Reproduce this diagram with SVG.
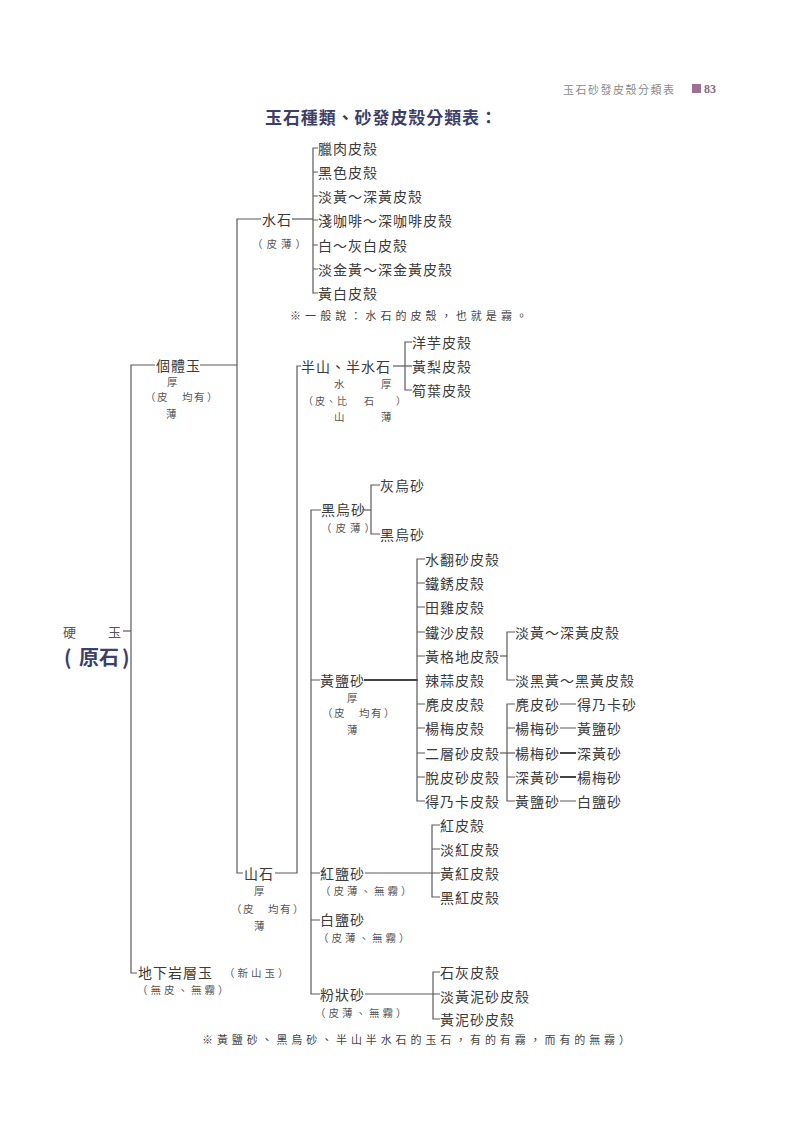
<svg xmlns="http://www.w3.org/2000/svg" width="800" height="1132" viewBox="0 0 800 1132">
<style>
text{font-family:"Noto Sans CJK TC","Noto Sans CJK SC",sans-serif;dominant-baseline:central;fill:#3a3a3a}
.n{font-size:14px;letter-spacing:1px}
.s{font-size:10.5px;fill:#555}
.note{font-size:11px;fill:#444}
.ln{fill:none;stroke:#5a5a5a;stroke-width:1.2}
.thick{fill:none;stroke:#444;stroke-width:2}
.big{font-size:20px;font-weight:bold;fill:#3c3f6b}
</style>
<rect width="800" height="1132" fill="#ffffff"/>
<g id="header">
<text x="563" y="89" style="font-size:11px;fill:#8a8a8a;letter-spacing:1.5px">玉石砂發皮殼分類表</text>
<rect x="692" y="84" width="9" height="9" fill="#a07090"/>
<text x="704" y="89" style="font-size:12px;fill:#8a6a80;font-family:'Liberation Serif',serif;font-weight:bold">83</text>
</g>
<g id="title">
<text x="265" y="116" textLength="232" style="font-size:17px;font-weight:bold;fill:#3c3f6b">玉石種類、砂發皮殼分類表：</text>
</g>
<g id="connectors">
<path class="ln" d="M123,631 H131"/>
<path class="ln" d="M155,365 H131 V973 H137"/>
<path class="ln" d="M200,365 H237"/>
<path class="ln" d="M261,219 H237 V873 H243"/>
<path class="ln" d="M292,219 H313"/>
<path class="ln" d="M318,148 H313 V293 H318 M313,172 H318 M313,196 H318 M313,220 H318 M313,245 H318 M313,269 H318"/>
<path class="ln" d="M301,366 H297 V873 H275"/>
<path class="ln" d="M393,366 H412"/>
<path class="ln" d="M412,342 H405 V390 H412"/>
<path class="ln" d="M321,510 H311 V994 H320 M311,680 H320 M311,873 H320 M311,920 H320"/>
<path class="ln" d="M362,510 H371"/>
<path class="ln" d="M380,485 H371 V534 H380"/>
<path class="thick" d="M364,680 H418"/>
<path class="ln" d="M425,559 H417 V801 H425 M417,583 H425 M417,607 H425 M417,632 H425 M417,656 H425 M417,704 H425 M417,728 H425 M417,753 H425 M417,777 H425"/>
<path class="ln" d="M500,656 H507"/>
<path class="ln" d="M515,632 H507 V680 H515"/>
<path class="ln" d="M500,753 H515"/>
<path class="ln" d="M515,704 H507 V801 H515 M507,728 H515 M507,777 H515"/>
<path class="ln" d="M560,704 H576 M560,728 H576 M560,801 H576"/>
<path class="thick" d="M560,753 H576 M560,777 H576"/>
<path class="ln" d="M365,873 H440"/>
<path class="ln" d="M440,825 H432 V897 H440 M432,849 H440"/>
<path class="ln" d="M365,994 H440"/>
<path class="ln" d="M440,972 H433 V1019 H440"/>
</g>
<g id="node-yingyu">
<text x="63" y="631" style="font-size:13px;fill:#555">硬</text>
<text x="108" y="631" style="font-size:13px;fill:#555">玉</text>
<text class="big" x="64" y="656">(</text>
<text class="big" x="79" y="656">原石</text>
<text class="big" x="122" y="656">)</text>
</g>
<g id="node-getiyu">
<text class="n" x="156" y="365">個體玉</text>
<text class="s" x="167" y="381">厚</text>
<text class="s" x="145" y="396">（</text>
<text class="s" x="157" y="396">皮</text>
<text class="s" x="182" y="396">均</text>
<text class="s" x="194" y="396">有</text>
<text class="s" x="207" y="396">）</text>
<text class="s" x="166" y="413">薄</text>
</g>
<g id="node-shuishi">
<text class="n" x="262" y="219">水石</text>
<text class="s" x="252" y="243" style="letter-spacing:4px">（皮薄）</text>
</g>
<g id="node-shuishi-children">
<text class="n" x="318" y="148">臘肉皮殼</text>
<text class="n" x="318" y="172">黑色皮殼</text>
<text class="n" x="318" y="196">淡黃～深黃皮殼</text>
<text class="n" x="318" y="220">淺咖啡～深咖啡皮殼</text>
<text class="n" x="318" y="245">白～灰白皮殼</text>
<text class="n" x="318" y="269">淡金黃～深金黃皮殼</text>
<text class="n" x="318" y="293">黃白皮殼</text>
<text class="note" x="290" y="315" textLength="237">※一般說：水石的皮殼，也就是霧。</text>
</g>
<g id="node-banshan">
<text class="n" x="301" y="366">半山、半水石</text>
<text class="s" x="334" y="383">水</text>
<text class="s" x="381" y="383">厚</text>
<text class="s" x="303" y="400" style="font-size:10px">（</text>
<text class="s" x="315" y="400" style="font-size:10px">皮</text>
<text class="s" x="326" y="400" style="font-size:10px">、</text>
<text class="s" x="337" y="400" style="font-size:10px">比</text>
<text class="s" x="364" y="400" style="font-size:10px">石</text>
<text class="s" x="396" y="400" style="font-size:10px">）</text>
<text class="s" x="334" y="416">山</text>
<text class="s" x="381" y="416">薄</text>
<text class="n" x="412" y="342">洋芋皮殼</text>
<text class="n" x="412" y="366">黃梨皮殼</text>
<text class="n" x="412" y="390">筍葉皮殼</text>
</g>
<g id="node-heiwusha">
<text class="n" x="321" y="509">黑烏砂</text>
<text class="s" x="321" y="527" style="letter-spacing:4px">（皮薄）</text>
<text class="n" x="380" y="485">灰烏砂</text>
<text class="n" x="380" y="534">黑烏砂</text>
</g>
<g id="node-huangyansha">
<text class="n" x="320" y="680">黃鹽砂</text>
<text class="s" x="347" y="697">厚</text>
<text class="s" x="322" y="712">（</text>
<text class="s" x="334" y="712">皮</text>
<text class="s" x="359" y="712">均</text>
<text class="s" x="371" y="712">有</text>
<text class="s" x="384" y="712">）</text>
<text class="s" x="347" y="729">薄</text>
<text class="n" x="425" y="559">水翻砂皮殼</text>
<text class="n" x="425" y="583">鐵銹皮殼</text>
<text class="n" x="425" y="607">田雞皮殼</text>
<text class="n" x="425" y="632">鐵沙皮殼</text>
<text class="n" x="425" y="656">黃格地皮殼</text>
<text class="n" x="425" y="680">辣蒜皮殼</text>
<text class="n" x="425" y="704">麂皮皮殼</text>
<text class="n" x="425" y="728">楊梅皮殼</text>
<text class="n" x="425" y="753">二層砂皮殼</text>
<text class="n" x="425" y="777">脫皮砂皮殼</text>
<text class="n" x="425" y="801">得乃卡皮殼</text>
</g>
<g id="node-huanggedi-children">
<text class="n" x="515" y="632">淡黃～深黃皮殼</text>
<text class="n" x="515" y="680">淡黑黃～黑黃皮殼</text>
</g>
<g id="node-erceng-children">
<text class="n" x="515" y="704">麂皮砂</text><text class="n" x="577" y="704">得乃卡砂</text>
<text class="n" x="515" y="728">楊梅砂</text><text class="n" x="577" y="728">黃鹽砂</text>
<text class="n" x="515" y="753">楊梅砂</text><text class="n" x="577" y="753">深黃砂</text>
<text class="n" x="515" y="777">深黃砂</text><text class="n" x="577" y="777">楊梅砂</text>
<text class="n" x="515" y="801">黃鹽砂</text><text class="n" x="577" y="801">白鹽砂</text>
</g>
<g id="node-shanshi">
<text class="n" x="244" y="873">山石</text>
<text class="s" x="254" y="890">厚</text>
<text class="s" x="231" y="908">（</text>
<text class="s" x="243" y="908">皮</text>
<text class="s" x="268" y="908">均</text>
<text class="s" x="280" y="908">有</text>
<text class="s" x="293" y="908">）</text>
<text class="s" x="254" y="925">薄</text>
</g>
<g id="node-hongyansha">
<text class="n" x="320" y="873">紅鹽砂</text>
<text class="s" x="320" y="890" style="letter-spacing:3px">（皮薄、無霧）</text>
<text class="n" x="440" y="825">紅皮殼</text>
<text class="n" x="440" y="849">淡紅皮殼</text>
<text class="n" x="440" y="873">黃紅皮殼</text>
<text class="n" x="440" y="897">黑紅皮殼</text>
</g>
<g id="node-baiyansha">
<text class="n" x="320" y="919">白鹽砂</text>
<text class="s" x="318" y="937" style="letter-spacing:3px">（皮薄、無霧）</text>
</g>
<g id="node-fenzhuangsha">
<text class="n" x="320" y="994">粉狀砂</text>
<text class="s" x="315" y="1012" style="letter-spacing:3px">（皮薄、無霧）</text>
<text class="n" x="440" y="972">石灰皮殼</text>
<text class="n" x="440" y="996">淡黃泥砂皮殼</text>
<text class="n" x="440" y="1019">黃泥砂皮殼</text>
</g>
<g id="node-dixia">
<text class="n" x="138" y="972">地下岩層玉</text>
<text class="s" x="224" y="972" style="letter-spacing:3px">（新山玉）</text>
<text class="s" x="137" y="989" style="letter-spacing:3px">（無皮、無霧）</text>
</g>
<g id="footnote">
<text class="note" x="202" y="1039" textLength="428">※黃鹽砂、黑烏砂、半山半水石的玉石，有的有霧，而有的無霧）</text>
</g>
</svg>
